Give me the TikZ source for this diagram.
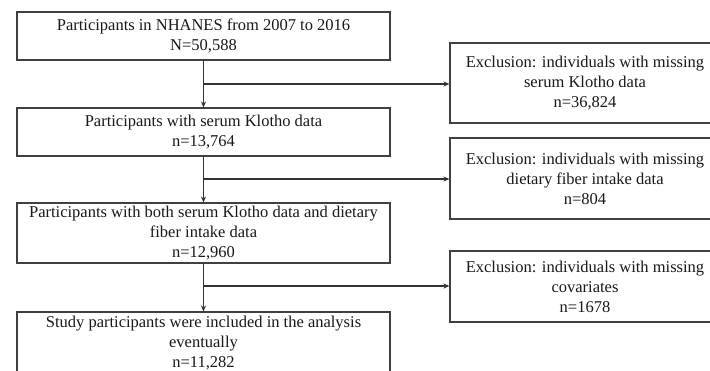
\documentclass[tikz,border=0pt]{standalone}
\usepackage{fontspec}
\setmainfont{Liberation Serif}
\usetikzlibrary{arrows.meta}
\begin{document}
\begin{tikzpicture}[x=1pt,y=-1pt,
  box/.style={draw=black!75, line width=1.1pt, rectangle, inner sep=0pt, align=center,
    font=\fontsize{16.5}{20}\selectfont, text=black!90},
  lbox/.style={box, minimum width=373pt},
  rbox/.style={box, minimum width=270pt},
  conn/.style={draw=black!80, line width=1.1pt},
  arr/.style={conn, -{Stealth[length=6pt,width=5pt]}}]
\useasboundingbox (0,0) rectangle (710,370);
\clip (0,0) rectangle (710,370);
\fill[white] (0,0) rectangle (710,370);
\node[lbox, minimum height=48pt] (b1) at (203.5,36) {Participants in NHANES from 2007 to 2016\\N=50,588};
\node[lbox, minimum height=48pt] (b2) at (203.5,132) {Participants with serum Klotho data\\n=13,764};
\node[lbox, minimum height=60pt] (b3) at (203.5,233) {Participants with both serum Klotho data and dietary\\fiber intake data\\n=12,960};
\node[lbox, minimum height=62pt] (b4) at (203.5,343) {Study participants were included in the analysis\\eventually\\n=11,282};
\node[rbox, minimum height=80pt] (r1) at (585,83) {Exclusion: individuals with missing\\serum Klotho data\\n=36,824};
\node[rbox, minimum height=81pt] (r2) at (585,178.5) {Exclusion: individuals with missing\\dietary fiber intake data\\n=804};
\node[rbox, minimum height=71pt] (r3) at (585,286.5) {Exclusion: individuals with missing\\covariates\\n=1678};
\draw[arr] (b1) -- (b2);
\draw[arr] (b2) -- (b3);
\draw[arr] (b3) -- (b4);
\coordinate (j1) at (203.5,84);
\coordinate (j2) at (203.5,179);
\coordinate (j3) at (203.5,286);
\draw[arr] (j1) -- (j1 -| r1.west);
\draw[arr] (j2) -- (j2 -| r2.west);
\draw[arr] (j3) -- (j3 -| r3.west);
\end{tikzpicture}
\end{document}
